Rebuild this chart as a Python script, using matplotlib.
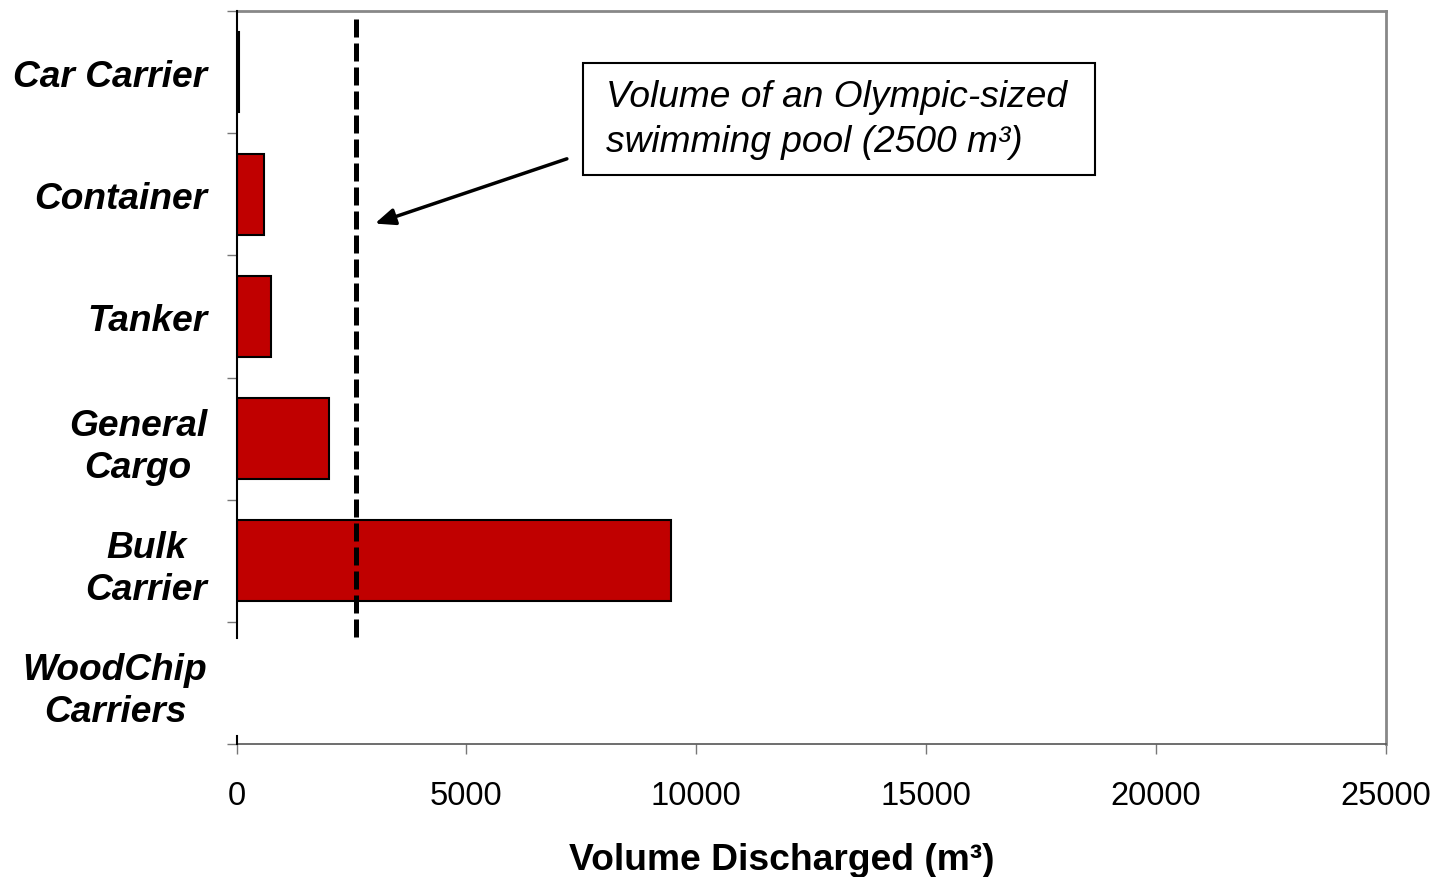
import matplotlib.pyplot as plt
from matplotlib.patches import Rectangle
from matplotlib.ticker import FixedLocator, NullFormatter

# data
categories = ['Car Carrier', 'Container', 'Tanker', 'General\nCargo', 'Bulk\nCarrier', 'WoodChip\nCarriers']
volumes = [50, 600, 750, 2010, 9450, 0]
pool_line = 2600
x_ticks = [0, 5000, 10000, 15000, 20000, 25000]

plt.rcParams['font.family'] = ['Liberation Sans', 'DejaVu Sans']

fig = plt.figure(figsize=(14.44, 8.78), dpi=100)
ax = fig.add_axes([236.5 / 1444, 133 / 878, 1149.5 / 1444, 733 / 878])

pos = list(range(len(categories)))
lws = [1.5 if v > 0 else 0 for v in volumes]
ax.barh(pos, volumes, height=0.66, color='#C00000', edgecolor='black', linewidth=lws, zorder=2)

# swimming pool reference line
ax.axvline(pool_line, ymin=0.146, ymax=0.989, color='black', linewidth=3.6,
           dashes=(3.6, 1.2), zorder=3)

ax.set_xlim(0, 25000)
ax.set_ylim(len(categories) - 0.5, -0.5)

ax.set_xticks(x_ticks)
ax.set_xticklabels([str(t) for t in x_ticks], fontsize=23.5)
ax.tick_params(axis='x', direction='out', length=7, width=1, color='#777777', pad=19)

ax.yaxis.set_major_locator(FixedLocator([p - 0.5 for p in range(len(categories) + 1)]))
ax.yaxis.set_major_formatter(NullFormatter())
ax.yaxis.set_minor_locator(FixedLocator(pos))
ax.set_yticklabels(categories, minor=True)
ax.tick_params(axis='y', which='major', direction='out', length=7, width=1, color='#777777')
ax.tick_params(axis='y', which='minor', length=0, pad=21)
for lab in ax.get_yticklabels(minor=True):
    lab.set_fontsize(26.7)
    lab.set_fontweight('bold')
    lab.set_fontstyle('italic')
    lab.set_multialignment('center')
    lab.set_linespacing(1.27)

ax.set_xlabel('Volume Discharged (m³)', fontsize=26.8, fontweight='bold', labelpad=22, x=0.474)

for s in ['top', 'right']:
    ax.spines[s].set_color('#888888')
    ax.spines[s].set_linewidth(2)
ax.spines['bottom'].set_color('#555555')
ax.spines['bottom'].set_linewidth(1.2)
ax.spines['left'].set_visible(False)
# left axis line, broken behind the last label
ax.plot([0, 0], [1, 0.145], transform=ax.transAxes, color='black', linewidth=1.5, clip_on=False, zorder=4)
ax.plot([0, 0], [0.011, 0], transform=ax.transAxes, color='black', linewidth=1.5, clip_on=False, zorder=4)

# annotation
ax.annotate('', xy=(3010, 1.24), xytext=(7185, 0.71),
            arrowprops=dict(arrowstyle='-|>,head_length=1.2,head_width=0.5',
                            color='black', linewidth=2.5, shrinkA=0, shrinkB=0))
ax.add_patch(Rectangle((0.3014, 0.7763), 0.4455, 0.1527, transform=ax.transAxes,
                       facecolor='white', edgecolor='black', linewidth=1.5, zorder=5))
ax.text(0.3215, 0.8527, 'Volume of an Olympic-sized\nswimming pool (2500 m³)',
        transform=ax.transAxes, fontsize=26.7, fontstyle='italic', ha='left', va='center',
        linespacing=1.4, zorder=6)

fig.savefig('out.png', dpi=100)
